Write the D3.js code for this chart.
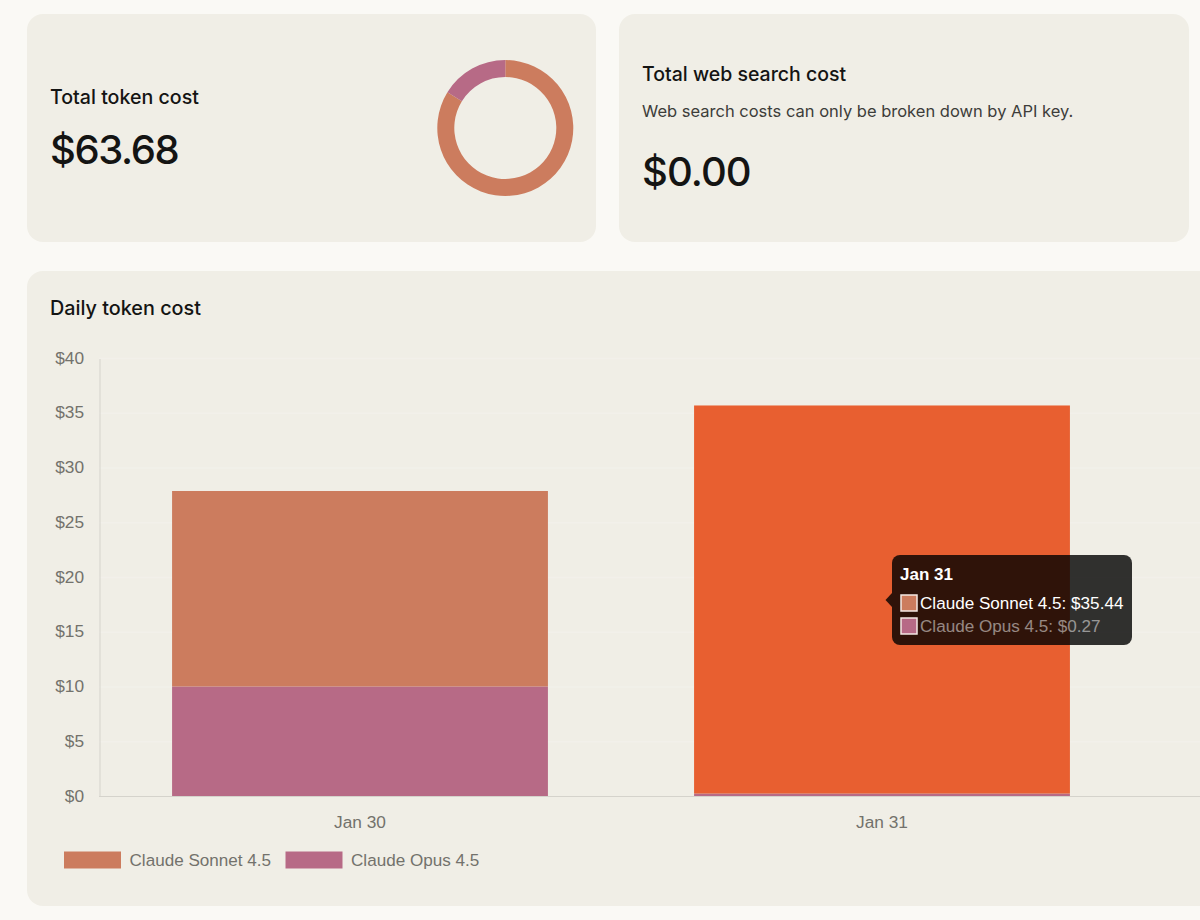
<!DOCTYPE html>
<html>
<head>
<meta charset="utf-8">
<script src="https://cdn.jsdelivr.net/npm/d3@7"></script>
<style>
  html, body { margin: 0; padding: 0; background: #faf9f5; overflow: hidden; }
  svg { display: block; }
  .head { font-family: Inter, sans-serif; fill: #141413; }
  .chart { font-family: "Liberation Sans", Arial, sans-serif; }
</style>
</head>
<body>
<svg id="page" width="1200" height="920"></svg>
<script>
var days = ['Jan 30', 'Jan 31'];
var sonnet = [17.85, 35.44];
var opus = [10.05, 0.27];
var seriesNames = ['Claude Sonnet 4.5', 'Claude Opus 4.5'];
var seriesColors = ['#cc7c5e', '#b76a86'];
var donutValues = [53.36, 10.32];
var yTicks = [0, 5, 10, 15, 20, 25, 30, 35, 40];
var hoverColor = '#e85f30';

var svg = d3.select('#page');

// cards
function card(x, y, w, h) {
  svg.append('rect').attr('x', x).attr('y', y).attr('width', w).attr('height', h)
    .attr('rx', 16).attr('fill', '#f0eee6');
}
card(27, 14, 569, 228);
card(619, 14, 570, 228);
card(27, 271, 1200, 635);

function label(txt, x, y, size, cls, fill) {
  var t = svg.append('text').attr('x', x).attr('y', y).attr('font-size', size)
    .attr('class', cls).text(txt);
  if (fill) t.attr('fill', fill).style('fill', fill);
  return t;
}

label('Total token cost', 50, 104, 19.6, 'head').attr('font-weight', 500);
label('$63.68', 50, 164, 40, 'head').attr('font-weight', 500).attr('letter-spacing', -1.4);
label('Total web search cost', 642, 81, 19.5, 'head').attr('font-weight', 500);
label('Web search costs can only be broken down by API key.', 642, 117, 16.5, 'head', '#3d3d3a');
label('$0.00', 642, 186, 40, 'head').attr('font-weight', 500).attr('letter-spacing', -0.9);

// donut
var pie = d3.pie().sort(null);
var arc = d3.arc().innerRadius(51).outerRadius(68);
svg.append('g').attr('transform', 'translate(505.3,128)')
  .selectAll('path').data(pie(donutValues)).enter().append('path')
  .attr('d', arc).attr('fill', function(d, i) { return seriesColors[i]; });

// daily chart
var y = d3.scaleLinear().domain([0, 40]).range([796.5, 358.5]);
var x = d3.scaleBand().domain(days).range([99, 1143]).paddingInner(0.28).paddingOuter(0.14);

label('Daily token cost', 50, 315, 19.8, 'head').attr('font-weight', 500);

svg.append('g').selectAll('line').data(yTicks.slice(1)).enter().append('line')
  .attr('x1', 99).attr('x2', 1200)
  .attr('y1', function(d) { return y(d); }).attr('y2', function(d) { return y(d); })
  .attr('stroke', '#f2f0ea').attr('stroke-width', 1.5);

var bars = svg.append('g');
days.forEach(function(day, i) {
  bars.append('rect').attr('x', x(day)).attr('width', x.bandwidth())
    .attr('y', y(opus[i])).attr('height', y(0) - y(opus[i]))
    .attr('fill', seriesColors[1]);
  bars.append('rect').attr('x', x(day)).attr('width', x.bandwidth())
    .attr('y', y(opus[i] + sonnet[i])).attr('height', y(0) - y(sonnet[i]))
    .attr('fill', i === 1 ? hoverColor : seriesColors[0]);
});

var yAxis = d3.axisLeft(y).tickValues(yTicks).tickSize(0).tickPadding(15.5)
  .tickFormat(function(d) { return '$' + d; });
var yg = svg.append('g').attr('class', 'chart').attr('transform', 'translate(99.5,0)').call(yAxis);
yg.select('.domain').attr('stroke', '#d5d3cc');
yg.selectAll('text').attr('font-size', 17.3).attr('font-family', '"Liberation Sans", Arial, sans-serif')
  .attr('fill', '#73726c').attr('transform', 'translate(0,-1)');

var xAxis = d3.axisBottom(x).tickSize(0).tickPadding(19);
var xg = svg.append('g').attr('class', 'chart').attr('transform', 'translate(0,796.5)').call(xAxis);
xg.select('.domain').attr('d', 'M99,0H1200').attr('stroke', '#d5d3cc');
xg.selectAll('text').attr('font-size', 17.3).attr('font-family', '"Liberation Sans", Arial, sans-serif').attr('fill', '#73726c');

// legend
var legendX = [64, 285.5];
seriesNames.forEach(function(name, i) {
  svg.append('rect').attr('x', legendX[i]).attr('y', 851.5).attr('width', 57).attr('height', 17)
    .attr('fill', seriesColors[i]);
  label(name, legendX[i] + 65.5, 866, 17.1, 'chart', '#73726c');
});

// tooltip on Jan 31
var tip = svg.append('g').attr('class', 'chart');
tip.append('path').attr('d', 'M892,593L885.5,600L892,607Z').attr('fill', 'rgba(0,0,0,0.8)');
tip.append('rect').attr('x', 892).attr('y', 555).attr('width', 240).attr('height', 90)
  .attr('rx', 8).attr('fill', 'rgba(0,0,0,0.8)');
tip.append('text').attr('x', 900).attr('y', 579.5).attr('font-size', 17).attr('font-weight', 700)
  .attr('fill', '#fff').text(days[1]);
var tipValues = [sonnet[1], opus[1]];
var tipOpacity = [1, 0.5];
seriesNames.forEach(function(name, i) {
  var rowY = 595 + i * 23;
  tip.append('rect').attr('x', 901).attr('y', rowY).attr('width', 16).attr('height', 16)
    .attr('fill', seriesColors[i]).attr('stroke', '#f5e9e4').attr('stroke-width', 1.5);
  tip.append('text').attr('x', 920).attr('y', rowY + 14).attr('font-size', 17.1)
    .attr('fill', '#fff').attr('fill-opacity', tipOpacity[i])
    .text(name + ': $' + tipValues[i].toFixed(2));
});
</script>
</body>
</html>
